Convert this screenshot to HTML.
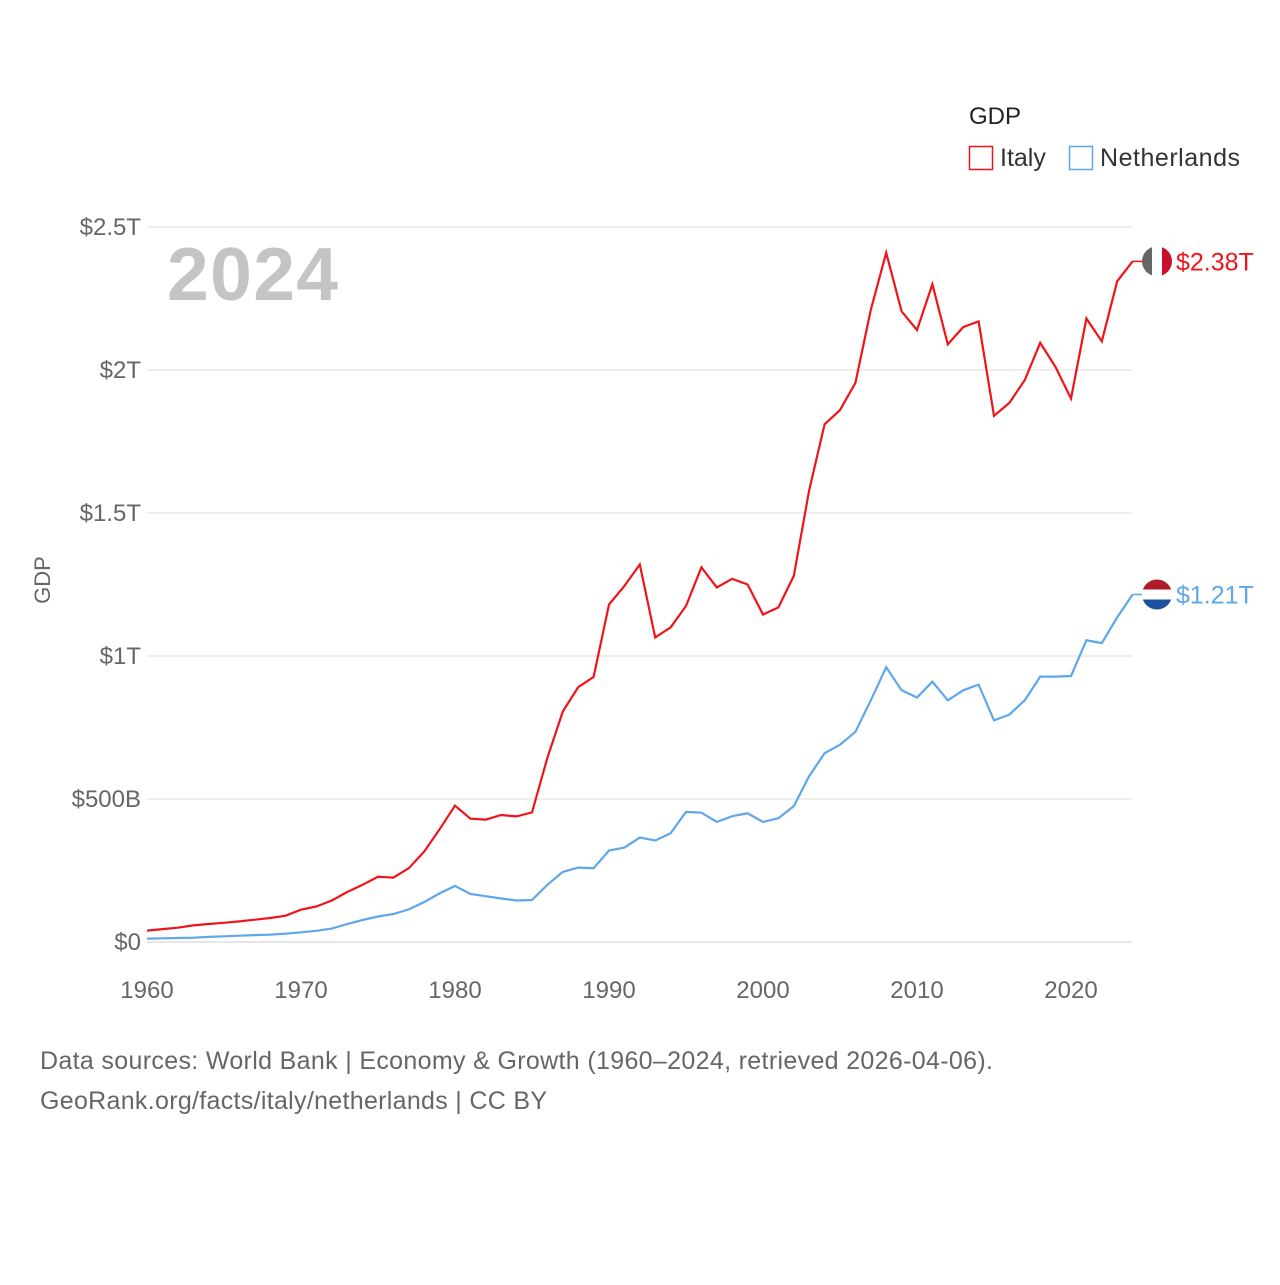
<!DOCTYPE html>
<html><head><meta charset="utf-8"><style>
body{margin:0;background:#fff;font-family:"Liberation Sans",sans-serif}
svg text{font-family:"Liberation Sans",sans-serif}
</style></head><body>
<svg id="chart" width="1280" height="1280" viewBox="0 0 1280 1280">
<g id="grid"></g><g id="yt"></g><g id="xt"></g>
<text x="167" y="300" font-size="75" font-weight="bold" fill="#c4c4c4" textLength="171">2024</text>
<text transform="translate(50,580) rotate(-90)" text-anchor="middle" font-size="22" fill="#666">GDP</text>
<text x="969" y="124" font-size="24" fill="#222">GDP</text>
<g><rect x="969.5" y="146.5" width="23" height="23" fill="none" stroke="#f0141a" stroke-width="1.5"/><text x="1000" y="166" font-size="25" fill="#333">Italy</text></g>
<g><rect x="1069.5" y="146.5" width="23" height="23" fill="none" stroke="#5ea7ea" stroke-width="1.5"/><text x="1100" y="166" font-size="25" fill="#333" textLength="140">Netherlands</text></g>
<g id="series"></g>
<text x="40" y="1069" font-size="25" fill="#666" textLength="953">Data sources: World Bank | Economy &amp; Growth (1960–2024, retrieved 2026-04-06).</text>
<text x="40" y="1109" font-size="25" fill="#666" textLength="507">GeoRank.org/facts/italy/netherlands | CC BY</text>
</svg>
<script>
const years=[];for(let y=1960;y<=2024;y++)years.push(y);
const italy=[40,45,50,58,63,67,72,78,84,92,113,124,145,175,200,228,225,258,316,394,477,431,428,444,439,453,644,806,891,927,1180,1245,1320,1065,1100,1175,1310,1240,1270,1250,1145,1170,1280,1580,1810,1860,1955,2210,2410,2205,2140,2300,2090,2150,2170,1840,1885,1965,2095,2010,1900,2180,2100,2310,2380];
const netherlands=[12,13,14,15,18,20,22,24,26,29,34,39,47,63,77,89,98,114,140,170,196,168,160,152,145,147,200,245,260,258,320,330,365,355,380,455,452,420,440,450,420,433,475,580,660,690,735,845,961,880,855,910,845,880,900,775,795,845,928,928,930,1055,1045,1135,1215];
const yTicks=[0,500,1000,1500,2000,2500];
const yLabels=["$0","$500B","$1T","$1.5T","$2T","$2.5T"];
const xTicks=[1960,1970,1980,1990,2000,2010,2020];
const ns="http://www.w3.org/2000/svg";
const X=y=>147+(y-1960)*15.4, Y=v=>942-v*0.286;
function mk(t,a,p){const e=document.createElementNS(ns,t);for(const k in a)e.setAttribute(k,a[k]);p.appendChild(e);return e;}
const grid=document.getElementById('grid'),yt=document.getElementById('yt'),xt=document.getElementById('xt'),ser=document.getElementById('series');
yTicks.forEach((v,i)=>{
 const l=mk('line',{x1:147,x2:1132,y1:Y(v),y2:Y(v),stroke:v?'#ddd':'#ccc'},grid);
 
 
 const t=mk('text',{x:141,y:Y(v)+8,'text-anchor':'end','font-size':24,fill:'#666'},yt);t.textContent=yLabels[i];
 
 
});
xTicks.forEach(y=>{
 const t=mk('text',{x:X(y),y:998,'text-anchor':'middle','font-size':24,fill:'#666'},xt);t.textContent=y;
 
 
});
function series(data,color,name,label){
 const d=data.map((v,i)=>(i?'L':'M')+X(years[i]).toFixed(1)+','+Y(v).toFixed(1)).join('');
 const p=mk('path',{d:d,fill:'none',stroke:color,'stroke-width':2.2},ser);
 
 
 const ly=Y(data[data.length-1]);
 mk('line',{x1:X(2024),x2:1150,y1:ly,y2:ly,stroke:color,'stroke-width':1.5},ser);
 const g=mk('g',{},ser);
 
 
 mk('clipPath',{id:'c'+name},g).appendChild(document.createElementNS(ns,'circle'));
 const c=g.querySelector('circle');c.setAttribute('cx',1157);c.setAttribute('cy',ly);c.setAttribute('r',15);
 if(name==='italy'){
  mk('rect',{x:1142,y:ly-15,width:10,height:30,fill:'#666','clip-path':'url(#c'+name+')'},g);
  mk('rect',{x:1152,y:ly-15,width:10,height:30,fill:'#fff','clip-path':'url(#c'+name+')'},g);
  mk('rect',{x:1162,y:ly-15,width:10,height:30,fill:'#c8102e','clip-path':'url(#c'+name+')'},g);
 }else{
  mk('rect',{x:1142,y:ly-15,width:30,height:10,fill:'#ae1c28','clip-path':'url(#c'+name+')'},g);
  mk('rect',{x:1142,y:ly-5,width:30,height:10,fill:'#fff','clip-path':'url(#c'+name+')'},g);
  mk('rect',{x:1142,y:ly+5,width:30,height:10,fill:'#1e50a0','clip-path':'url(#c'+name+')'},g);
 }
 const t=mk('text',{x:1176,y:ly+9,'font-size':25,fill:color},ser);t.textContent=label;
 
 
}
series(netherlands,'#5ea7ea','netherlands','$1.21T');
series(italy,'#f0141a','italy','$2.38T');
</script>
</body></html>
